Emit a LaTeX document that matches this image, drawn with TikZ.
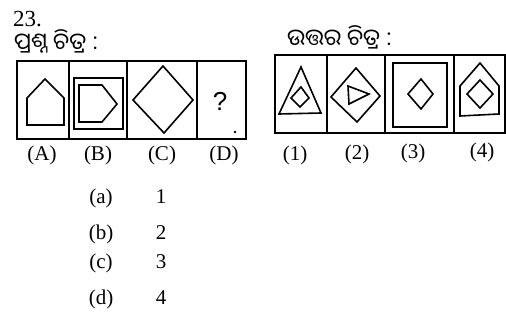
\documentclass[tikz,border=0pt]{standalone}
\usepackage{fontspec}
\setmainfont{Liberation Serif}
\newfontfamily\odia[Script=Oriya]{Noto Sans Oriya UI}
\newfontfamily\qsans{Liberation Sans}
\begin{document}
\begin{tikzpicture}[x=1pt,y=-1pt,
  frame/.style={line width=2pt},
  fig/.style={line width=1.6pt, line join=miter},
  lbl/.style={font=\fontsize{21}{23}\selectfont, inner sep=0pt},
  opt/.style={font=\fontsize{21}{23}\selectfont, inner sep=0pt, anchor=base},
  head/.style={font=\odia\fontsize{23}{25}\selectfont, inner sep=0pt, anchor=base west}]
\useasboundingbox (0,0) rectangle (506,323);
% heading
\node[font=\fontsize{23}{25}\selectfont, inner sep=0pt, anchor=base west] (num) at (13,27) {23.};
\node[head] (qhead) at (14,52) {ପ୍ରଶ୍ନ ଚିତ୍ର :};
\node[head] (ahead) at (287,48) {ଉତ୍ତର ଚିତ୍ର :};
% question figures
\draw[frame] (17,61) rectangle (246,139);
\draw[frame] (69,61) -- (69,139);
\draw[frame] (127,61) -- (127,139);
\draw[frame] (197,61) -- (197,139);
% A
\draw[fig] (27,125) -- (64,125) -- (64,98) -- (45,79) -- (27,98) -- cycle;
% B
\draw[fig] (74,78) rectangle (123,129);
\draw[fig] (79,85) -- (102,85) -- (117,104) -- (102,122) -- (79,122) -- cycle;
% C
\draw[fig] (163,66) -- (193,100) -- (164,133) -- (133,100) -- cycle;
% D
\node[font=\qsans\fontsize{26}{28}\selectfont, inner sep=0pt] (qm) at (220,101) {?};
\fill (235,132) circle (1.3);
% labels
\node[lbl] (la) at (42,155) {(A)};
\node[lbl] (lb) at (98,155) {(B)};
\node[lbl] (lc) at (162,155) {(C)};
\node[lbl] (ld) at (224,155) {(D)};
% answer figures
\draw[frame] (275,55) rectangle (505,133);
\draw[frame] (327,55) -- (327,133);
\draw[frame] (385,55) -- (385,133);
\draw[frame] (454,55) -- (454,133);
% 1
\draw[fig] (301,67) -- (321,113) -- (279,114) -- cycle;
\draw[fig] (301,87) -- (309,98) -- (300,107) -- (291,98) -- cycle;
% 2
\draw[fig] (356,68) -- (380,96) -- (357,122) -- (331,97) -- cycle;
\draw[fig] (348,86) -- (369,94) -- (349,104) -- cycle;
% 3
\draw[fig] (393,63) rectangle (447,127);
\draw[fig] (421,79) -- (433,94) -- (421,109) -- (408,94) -- cycle;
% 4
\draw[fig] (480,63) -- (499,86) -- (499,114) -- (460,116) -- (460,86) -- cycle;
\draw[fig] (480,80) -- (493,94) -- (480,108) -- (467,94) -- cycle;
% labels
\node[lbl] (l1) at (295,155) {(1)};
\node[lbl] (l2) at (357,154) {(2)};
\node[lbl] (l3) at (413,153) {(3)};
\node[lbl] (l4) at (482,152) {(4)};
% options
\node[opt] (oa) at (101,204) {(a)};
\node[opt] (va) at (161,204) {1};
\node[opt] (ob) at (101,240) {(b)};
\node[opt] (vb) at (161,240) {2};
\node[opt] (oc) at (101,268) {(c)};
\node[opt] (vc) at (161,268) {3};
\node[opt] (od) at (101,304) {(d)};
\node[opt] (vd) at (161,304) {4};
\end{tikzpicture}
\end{document}
